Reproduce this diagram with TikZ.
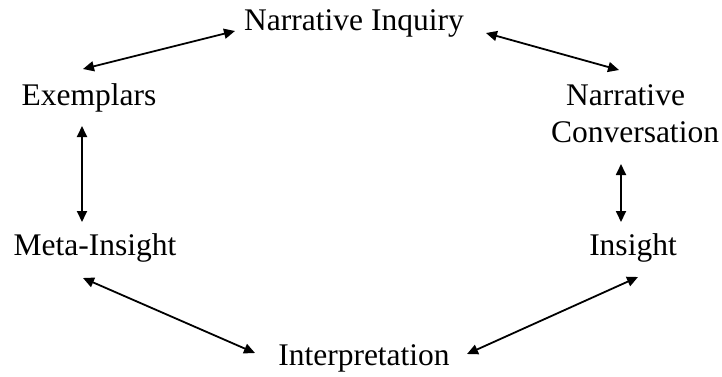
\documentclass[tikz,border=0pt]{standalone}
\usepackage{fontspec}
\setmainfont{Liberation Serif}
\usetikzlibrary{arrows.meta}
\begin{document}
\begin{tikzpicture}[x=1pt,y=-1pt,
  lbl/.style={anchor=base,inner sep=0pt,font=\fontsize{31.5}{36}\selectfont},
  link/.style={line width=1.8pt,{Triangle[length=11pt,width=10pt]}-{Triangle[length=11pt,width=10pt]}}]
\useasboundingbox (0,0) rectangle (722,376);
\node[lbl] (ni) at (354,30) {Narrative Inquiry};
\node[lbl] (ex) at (89,105) {Exemplars};
\node[lbl] (nc1) at (625.5,105) {Narrative};
\node[lbl] (nc) at (635,142) {Conversation};
\node[lbl] (mi) at (95,255) {Meta-Insight};
\node[lbl] (in) at (633,255) {Insight};
\node[lbl] (ip) at (364,365) {Interpretation};
\coordinate (a1) at (83,69);
\coordinate (a2) at (235,31);
\coordinate (b1) at (486,33);
\coordinate (b2) at (619,70);
\coordinate (c1) at (82,126);
\coordinate (c2) at (82,222);
\coordinate (d1) at (621,164);
\coordinate (d2) at (621,222);
\coordinate (e1) at (83,278);
\coordinate (e2) at (255,353);
\coordinate (f1) at (638,277);
\coordinate (f2) at (467,354);
\draw[link] (a1) -- (a2);
\draw[link] (b1) -- (b2);
\draw[link] (c1) -- (c2);
\draw[link] (d1) -- (d2);
\draw[link] (e1) -- (e2);
\draw[link] (f1) -- (f2);
\end{tikzpicture}
\end{document}
